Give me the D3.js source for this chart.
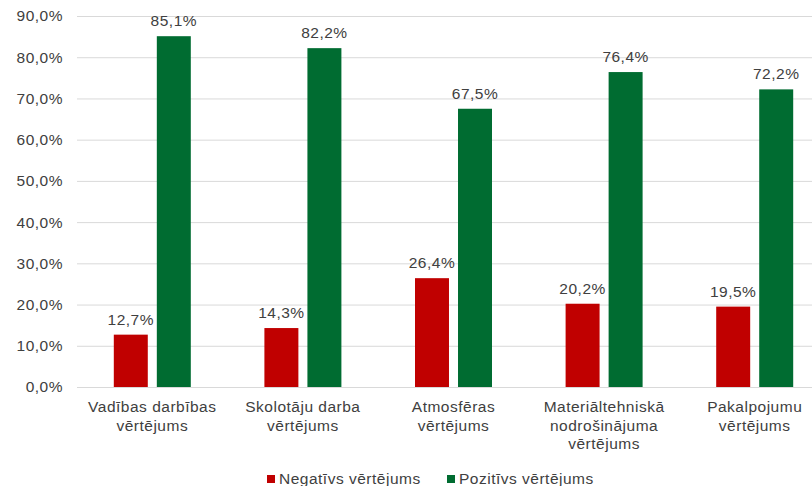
<!DOCTYPE html>
<html><head><meta charset="utf-8">
<script src="https://cdn.jsdelivr.net/npm/d3@7"></script>
<style>html,body{margin:0;padding:0;background:#fff;overflow:hidden}</style>
</head><body>
<svg id="c" width="812" height="486"></svg>
<script>
const categories = [["Vadības darbības","vērtējums"],["Skolotāju darba","vērtējums"],["Atmosfēras","vērtējums"],["Materiāltehniskā","nodrošinājuma","vērtējums"],["Pakalpojumu","vērtējums"]];
const seriesNames = ["Negatīvs vērtējums","Pozitīvs vērtējums"];
const negativeValues = [12.7, 14.3, 26.4, 20.2, 19.5];
const positiveValues = [85.1, 82.2, 67.5, 76.4, 72.2];
const yTicks = [0,10,20,30,40,50,60,70,80,90];
const colors = ["#C00000","#006C31"];

const svg = d3.select("#c");
const font = "Liberation Sans, Arial, sans-serif";
const fs = 15.5, ls = 0.5;
const txt = "#404040";
const x0 = 77, x1 = 830, yTop = 16, yBot = 387;
const y = d3.scaleLinear().domain([0,90]).range([yBot,yTop]);
const xb = d3.scaleBand().domain(d3.range(categories.length)).range([x0,x1]).paddingInner(0).paddingOuter(0);
const xi = d3.scaleBand().domain([0,1]).range([xb.bandwidth()/2-38.5, xb.bandwidth()/2+38.5]).paddingInner(0.21).paddingOuter(0);

const yAxis = d3.axisLeft(y).tickValues(yTicks).tickSize(-(x1-x0)).tickFormat(d=>d.toFixed(1).replace(".",",")+"%").tickPadding(14);
const ga = svg.append("g").attr("transform",`translate(${x0},0)`).call(yAxis);
ga.select(".domain").remove();
ga.selectAll(".tick line").attr("stroke","#d9d9d9").attr("stroke-width",1);
ga.selectAll(".tick text").attr("font-family",font).attr("font-size",fs).attr("letter-spacing",ls).attr("fill",txt);

const series = [negativeValues, positiveValues];
series.forEach((vals,si)=>{
  const g = svg.append("g");
  g.selectAll("rect").data(vals).join("rect")
    .attr("x",(d,i)=>xb(i)+xi(si)).attr("width",xi.bandwidth())
    .attr("y",d=>y(d)).attr("height",d=>yBot-y(d)).attr("fill",colors[si]);
  g.selectAll("text").data(vals).join("text")
    .attr("x",(d,i)=>xb(i)+xi(si)+xi.bandwidth()/2).attr("y",d=>y(d)-10)
    .attr("text-anchor","middle").attr("font-family",font).attr("font-size",fs).attr("letter-spacing",ls).attr("fill",txt)
    .text(d=>d.toFixed(1).replace(".",",")+"%");
});

categories.forEach((lines,i)=>{
  const cx = xb(i)+xb.bandwidth()/2;
  const t = svg.append("text").attr("x",cx).attr("y",412)
    .attr("text-anchor","middle").attr("font-family",font).attr("font-size",fs).attr("letter-spacing",ls).attr("fill",txt);
  lines.forEach((l,k)=>t.append("tspan").attr("x",cx).attr("dy",k?18.5:0).text(l));
});

const legX = [267, 447];
seriesNames.forEach((n,i)=>{
  svg.append("rect").attr("x",legX[i]).attr("y",475).attr("width",8).attr("height",8).attr("fill",colors[i]);
  svg.append("text").attr("x",legX[i]+12).attr("y",484).attr("font-family",font).attr("font-size",fs).attr("letter-spacing",ls).attr("fill",txt).text(n);
});
</script>
</body></html>
